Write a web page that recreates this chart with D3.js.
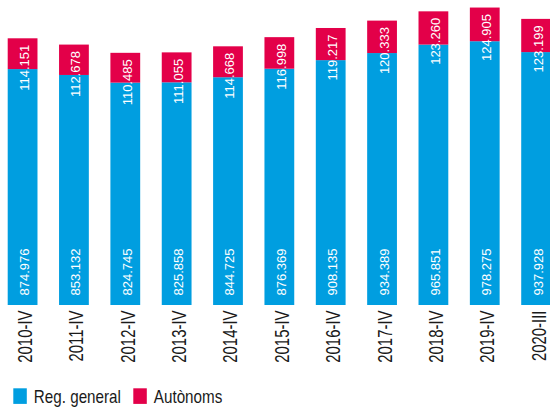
<!DOCTYPE html>
<html>
<head>
<meta charset="utf-8">
<script src="https://cdn.jsdelivr.net/npm/d3@7"></script>
<style>
  html, body { margin: 0; padding: 0; background: #fff; }
  svg { display: block; }
  text { font-family: "Liberation Sans", Arial, sans-serif; }
</style>
</head>
<body>
<svg id="chart" width="550" height="407"></svg>
<script>
// Quarterly affiliations: general regime vs self-employed
const categories = ["2010-IV", "2011-IV", "2012-IV", "2013-IV", "2014-IV", "2015-IV",
                    "2016-IV", "2017-IV", "2018-IV", "2019-IV", "2020-III"];
const regGeneral = [874976, 853132, 824745, 825858, 844725, 876369,
                    908135, 934389, 965851, 978275, 937928];
const autonoms   = [114151, 112678, 110485, 111055, 114668, 116998,
                    119217, 120333, 123260, 124905, 123199];
const seriesNames = ["Reg. general", "Autònoms"];

const colors = { reg: "#009ee0", aut: "#e30049" };

const locale = d3.formatLocale({ decimal: ",", thousands: ".", grouping: [3], currency: ["", "€"] });
const fmt = locale.format(",d");

const rows = categories.map((c, i) => ({ cat: c, reg: regGeneral[i], aut: autonoms[i] }));
const stack = d3.stack().keys(["reg", "aut"])(rows);

const svg = d3.select("#chart");

const x = d3.scaleBand()
  .domain(categories)
  .range([7.7, 551])
  .paddingInner(0.42)
  .paddingOuter(0);

const y = d3.scaleLinear()
  .domain([0, 1100000])
  .range([305, 8.4]);

// stacked bars
svg.append("g").selectAll("g")
  .data(stack)
  .join("g")
  .attr("fill", d => colors[d.key])
  .selectAll("rect")
  .data(d => d)
  .join("rect")
  .attr("x", d => x(d.data.cat))
  .attr("width", x.bandwidth())
  .attr("y", d => y(d[1]))
  .attr("height", d => y(d[0]) - y(d[1]));

// vertical value labels
const labels = svg.append("g")
  .attr("fill", "#fff")
  .attr("font-size", "13px");

labels.selectAll("text.reg")
  .data(rows)
  .join("text")
  .attr("class", "reg")
  .attr("text-anchor", "start")
  .attr("transform", d => `translate(${x(d.cat) + x.bandwidth() / 2 + 6.5},${y(0) - 9.5}) rotate(-90)`)
  .text(d => fmt(d.reg));

labels.selectAll("text.aut")
  .data(rows)
  .join("text")
  .attr("class", "aut")
  .attr("text-anchor", "end")
  .attr("transform", d => `translate(${x(d.cat) + x.bandwidth() / 2 + 6.5},${y(d.reg + d.aut) + 6.5}) rotate(-90)`)
  .text(d => fmt(d.aut));

// category axis, labels rotated
const xAxis = svg.append("g")
  .attr("transform", `translate(0,${y(0)})`)
  .call(d3.axisBottom(x).tickSize(0).tickPadding(0));
xAxis.select(".domain").remove();
xAxis.selectAll("text")
  .attr("fill", "#1a1a1a")
  .attr("font-size", "21px")
  .attr("font-family", "\"Liberation Sans\", Arial, sans-serif")
  .attr("text-anchor", "end")
  .attr("dy", null)
  .attr("y", null)
  .attr("transform", `translate(9.5,5.5) rotate(-90) scale(0.71,1)`);

// legend
const legend = svg.append("g").attr("transform", "translate(13.3,388.3)");
const legendItems = [
  { name: seriesNames[0], color: colors.reg, dx: 0 },
  { name: seriesNames[1], color: colors.aut, dx: 120 }
];
const li = legend.selectAll("g")
  .data(legendItems)
  .join("g")
  .attr("transform", d => `translate(${d.dx},0)`);
li.append("rect")
  .attr("width", 13.5)
  .attr("height", 15.6)
  .attr("fill", d => d.color);
li.append("text")
  .attr("transform", "translate(20.5,15) scale(0.86,1)")
  .attr("font-size", "17.7px")
  .attr("fill", "#1a1a1a")
  .text(d => d.name);
</script>
</body>
</html>
